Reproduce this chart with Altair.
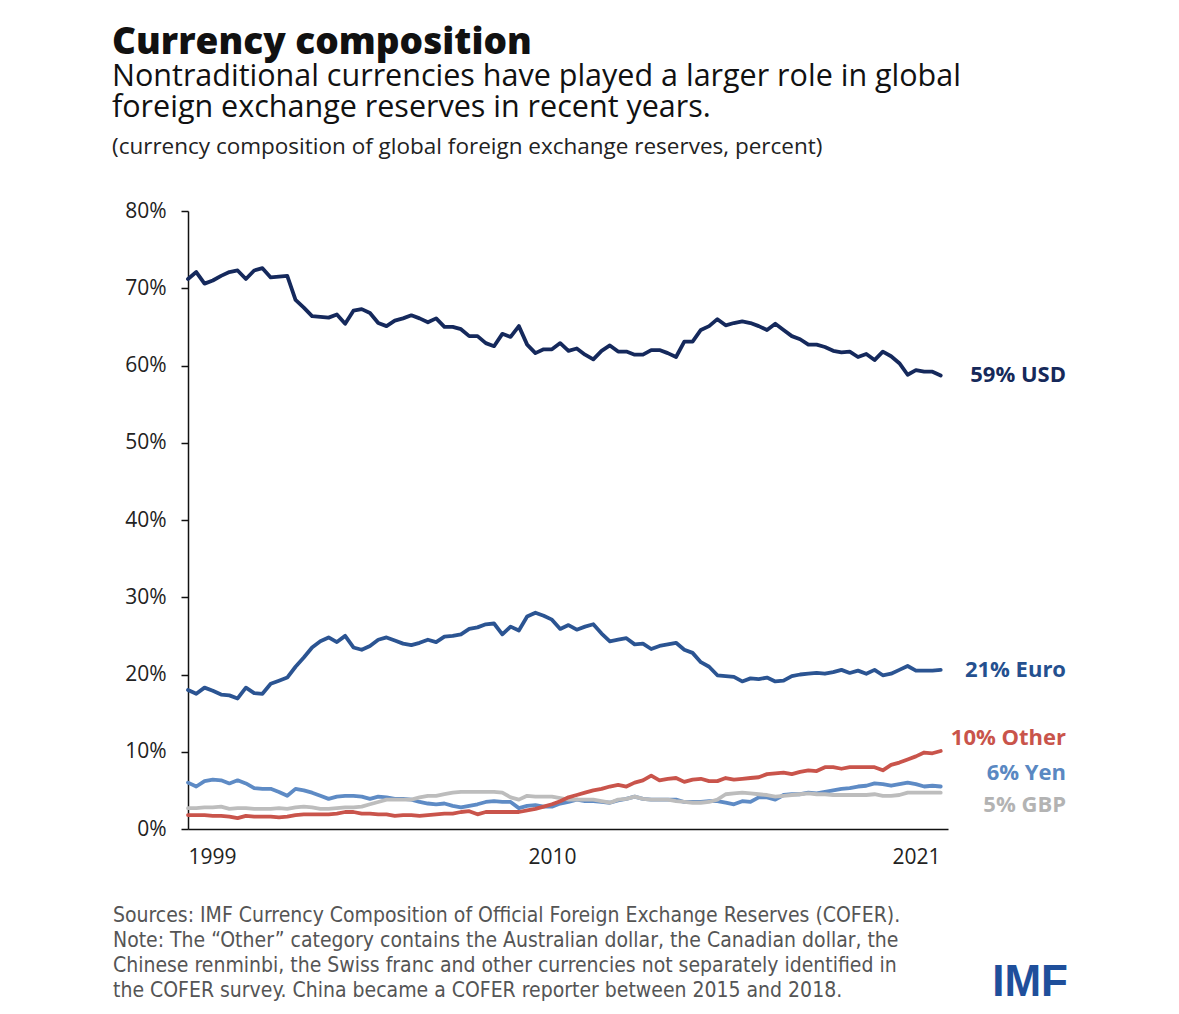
import altair as alt
import pandas as pd

# ---------------- data (quarterly, 1999Q1 .. 2021Q4) ----------------
start_year = 1999
usd = [71.2, 72.1, 70.6, 71.0, 71.6, 72.1, 72.3, 71.2, 72.3, 72.6, 71.4, 71.5,
       71.6, 68.5, 67.5, 66.4, 66.3, 66.2, 66.6, 65.4, 67.1, 67.3, 66.8, 65.5,
       65.1, 65.8, 66.1, 66.5, 66.1, 65.6, 66.1, 65.0, 65.0, 64.7, 63.8, 63.8,
       62.9, 62.5, 64.1, 63.7, 65.1, 62.7, 61.6, 62.1, 62.1, 62.9, 61.9, 62.2,
       61.4, 60.8, 61.9, 62.6, 61.8, 61.8, 61.4, 61.4, 62.0, 62.0, 61.6, 61.1,
       63.1, 63.1, 64.6, 65.1, 66.0, 65.2, 65.5, 65.7, 65.5, 65.1, 64.6, 65.4,
       64.6, 63.8, 63.4, 62.7, 62.7, 62.4, 61.9, 61.7, 61.8, 61.1, 61.5, 60.7,
       61.8, 61.2, 60.3, 58.8, 59.4, 59.2, 59.2, 58.7]
euro = [18.0, 17.5, 18.3, 17.9, 17.4, 17.3, 16.9, 18.3, 17.6, 17.5, 18.8, 19.2,
        19.6, 21.0, 22.2, 23.5, 24.3, 24.8, 24.2, 25.0, 23.5, 23.2, 23.7, 24.5,
        24.8, 24.4, 24.0, 23.8, 24.1, 24.5, 24.2, 24.9, 25.0, 25.2, 25.9, 26.1,
        26.5, 26.6, 25.2, 26.2, 25.7, 27.5, 28.0, 27.6, 27.1, 25.9, 26.4, 25.8,
        26.2, 26.5, 25.3, 24.3, 24.5, 24.7, 23.9, 24.0, 23.3, 23.7, 23.9, 24.1,
        23.2, 22.8, 21.6, 21.0, 19.9, 19.8, 19.7, 19.1, 19.5, 19.4, 19.6, 19.1,
        19.2, 19.8, 20.0, 20.1, 20.2, 20.1, 20.3, 20.6, 20.2, 20.5, 20.1, 20.6,
        19.9, 20.1, 20.6, 21.1, 20.5, 20.5, 20.5, 20.6]
other = [1.8, 1.8, 1.8, 1.7, 1.7, 1.6, 1.4, 1.7, 1.6, 1.6, 1.6, 1.5,
         1.6, 1.8, 1.9, 1.9, 1.9, 1.9, 2.0, 2.2, 2.2, 2.0, 2.0, 1.9,
         1.9, 1.7, 1.8, 1.8, 1.7, 1.8, 1.9, 2.0, 2.0, 2.2, 2.3, 1.9,
         2.2, 2.2, 2.2, 2.2, 2.2, 2.4, 2.6, 2.9, 3.2, 3.6, 4.1, 4.4,
         4.7, 5.0, 5.2, 5.5, 5.7, 5.5, 6.0, 6.3, 6.9, 6.3, 6.5, 6.6,
         6.1, 6.4, 6.5, 6.2, 6.2, 6.6, 6.4, 6.5, 6.6, 6.7, 7.1, 7.2,
         7.3, 7.1, 7.4, 7.6, 7.5, 8.0, 8.0, 7.8, 8.0, 8.0, 8.0, 8.0,
         7.6, 8.3, 8.6, 9.0, 9.4, 9.9, 9.8, 10.1]
yen = [6.0, 5.5, 6.2, 6.4, 6.3, 5.9, 6.3, 5.9, 5.3, 5.2, 5.2, 4.8,
       4.3, 5.2, 5.0, 4.7, 4.3, 3.9, 4.2, 4.3, 4.3, 4.2, 3.9, 4.2,
       4.1, 3.9, 3.9, 3.8, 3.5, 3.3, 3.2, 3.3, 3.0, 2.8, 3.0, 3.2,
       3.5, 3.6, 3.5, 3.5, 2.7, 3.0, 3.1, 2.9, 2.9, 3.3, 3.5, 3.8,
       3.6, 3.6, 3.5, 3.4, 3.7, 3.9, 4.2, 3.9, 3.8, 3.8, 3.8, 3.8,
       3.5, 3.5, 3.5, 3.6, 3.6, 3.4, 3.2, 3.6, 3.5, 4.1, 4.1, 3.8,
       4.4, 4.5, 4.5, 4.7, 4.6, 4.8, 5.0, 5.2, 5.3, 5.5, 5.6, 5.9,
       5.8, 5.6, 5.8, 6.0, 5.8, 5.5, 5.6, 5.5]
gbp = [2.7, 2.7, 2.8, 2.8, 2.9, 2.6, 2.7, 2.7, 2.6, 2.6, 2.6, 2.7,
       2.6, 2.8, 2.9, 2.8, 2.6, 2.6, 2.7, 2.8, 2.8, 2.9, 3.2, 3.5,
       3.8, 3.8, 3.8, 3.8, 4.1, 4.3, 4.3, 4.5, 4.7, 4.8, 4.8, 4.8,
       4.8, 4.8, 4.7, 4.1, 3.8, 4.3, 4.2, 4.2, 4.2, 4.0, 3.8, 3.8,
       3.8, 3.8, 3.6, 3.4, 3.8, 3.9, 4.2, 3.9, 3.8, 3.8, 3.8, 3.6,
       3.5, 3.4, 3.4, 3.5, 3.8, 4.5, 4.6, 4.7, 4.6, 4.5, 4.4, 4.2,
       4.3, 4.4, 4.5, 4.6, 4.5, 4.5, 4.4, 4.4, 4.4, 4.4, 4.4, 4.5,
       4.3, 4.3, 4.4, 4.7, 4.7, 4.7, 4.7, 4.7]

series_names = ["Yen", "GBP", "Other", "Euro", "USD"]
series_values = [yen, gbp, other, euro, usd]
series_colors = ["#5e8bc5", "#bdbdbd", "#c9544b", "#2b5492", "#15295c"]

end_labels = ["59% USD", "21% Euro", "10% Other", "6% Yen", "5% GBP"]
end_label_colors = ["#16295a", "#24508f", "#c9544b", "#5a88c2", "#b3b3b3"]
end_label_y = [164, 459, 527, 562, 594]

x_ticks = [1999, 2010, 2021]
y_ticks = [0, 10, 20, 30, 40, 50, 60, 70, 80]

title_text = "Currency composition"
subtitle_lines = ["Nontraditional currencies have played a larger role in global",
                  "foreign exchange reserves in recent years."]
unit_text = "(currency composition of global foreign exchange reserves, percent)"
footer_lines = [
    "Sources: IMF Currency Composition of Official Foreign Exchange Reserves (COFER).",
    "Note: The \u201cOther\u201d category contains the Australian dollar, the Canadian dollar, the",
    "Chinese renminbi, the Swiss franc and other currencies not separately identified in",
    "the COFER survey. China became a COFER reporter between 2015 and 2018.",
]

# ---------------- build table ----------------
rows = []
for name, vals in zip(series_names, series_values):
    for i, v in enumerate(vals):
        rows.append({"t": start_year + i / 4.0, "value": v, "series": name})
df = pd.DataFrame(rows)

W, H = 760, 618
FONT = "Open Sans"

x_scale = alt.Scale(domain=[1999, 2021.97], nice=False, zero=False)
y_scale = alt.Scale(domain=[0, 80], nice=False)

layers = []
for i, (name, col) in enumerate(zip(series_names, series_colors)):
    if i == 0:
        xe = alt.X("t:Q", scale=x_scale,
                   axis=alt.Axis(values=x_ticks, format="d", ticks=False, grid=False,
                                 domainColor="#111", domainWidth=1.5, labelFontSize=21,
                                 labelFont=FONT, labelColor="#222", labelPadding=17,
                                 title=None))
        ye = alt.Y("value:Q", scale=y_scale,
                   axis=alt.Axis(values=y_ticks, labelExpr="datum.value + '%'", grid=False,
                                 ticks=True, tickSize=7, tickColor="#111", tickWidth=1.5,
                                 domainColor="#111", domainWidth=1.5, labelFontSize=21,
                                 labelFont=FONT, labelColor="#222", labelPadding=15,
                                 title=None))
    else:
        xe = alt.X("t:Q", scale=x_scale)
        ye = alt.Y("value:Q", scale=y_scale)
    layers.append(
        alt.Chart(df).transform_filter(alt.datum.series == name)
        .mark_line(color=col, strokeWidth=3.8, strokeJoin="round", strokeCap="round")
        .encode(x=xe, y=ye)
    )

def text_layer(txt, x, y, size, color, weight="normal", align="left", font=FONT,
               baseline="alphabetic"):
    return alt.Chart(pd.DataFrame({"txt": [txt]})).mark_text(
        align=align, baseline=baseline, fontSize=size, font=font,
        fontWeight=weight, color=color
    ).encode(text="txt:N", x=alt.value(x), y=alt.value(y))

for lab, col, yy in zip(end_labels, end_label_colors, end_label_y):
    layers.append(text_layer(lab, 878, yy, 22, col, weight="bold", align="right",
                             baseline="middle"))

layers.append(text_layer(title_text, -76, -157, 37, "#111", weight=800))
layers.append(text_layer(subtitle_lines[0], -76, -125, 30.5, "#111"))
layers.append(text_layer(subtitle_lines[1], -76, -94, 30.5, "#111"))
layers.append(text_layer(unit_text, -76, -57, 22.5, "#222"))

FOOT = "'DejaVu Sans Condensed', 'Liberation Sans Narrow', Roboto, sans-serif"
for k, line in enumerate(footer_lines):
    layers.append(text_layer(line, -75, 705 + 25 * k, 21, "#555", font=FOOT,
                             baseline="middle"))
layers.append(text_layer("IMF", 880, 794, 44, "#1f4f9b", weight="bold",
                         align="right", font="Liberation Sans", baseline="bottom"))

chart = alt.layer(*layers).properties(
    width=W, height=H,
    autosize=alt.AutoSizeParams(type="none"),
    padding={"left": 180, "top": 203, "right": 223, "bottom": 177},
).configure(background="white").configure_view(stroke=None)

chart.save("out.html", embed_options={"renderer": "svg", "actions": False})
